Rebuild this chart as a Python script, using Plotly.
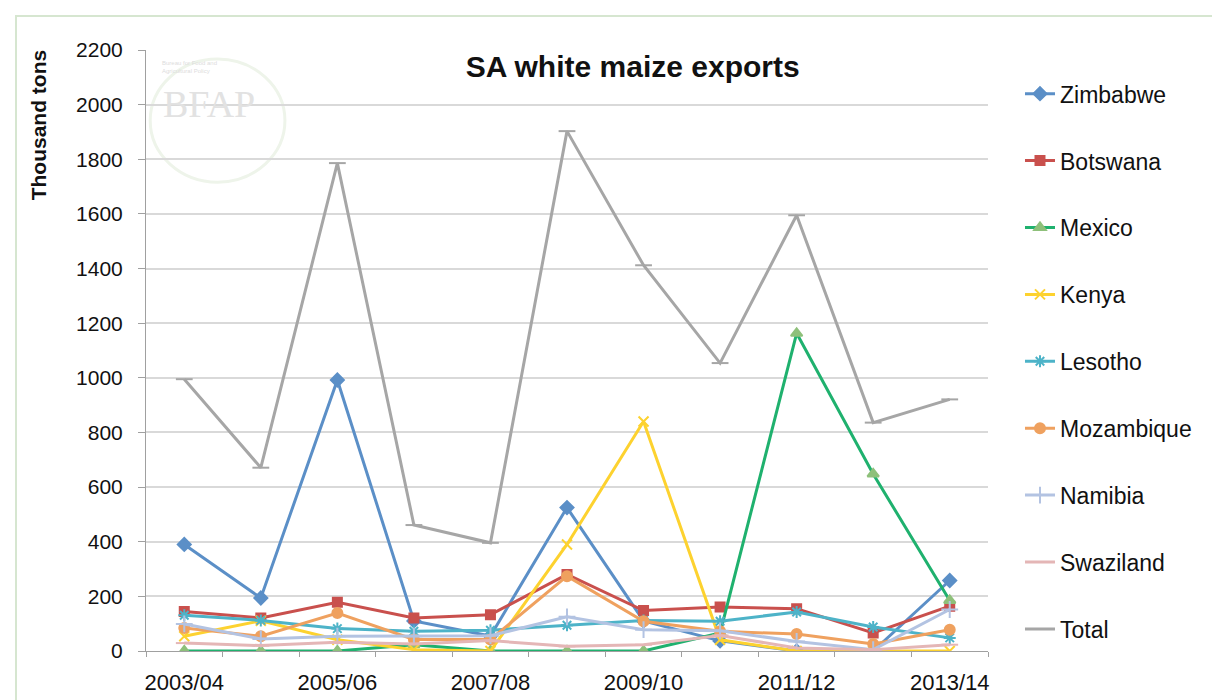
import plotly.graph_objects as go

seasons = ['2003/04', '2004/05', '2005/06', '2006/07', '2007/08', '2008/09',
           '2009/10', '2010/11', '2011/12', '2012/13', '2013/14']
shown_ticks = ['2003/04', '2005/06', '2007/08', '2009/10', '2011/12', '2013/14']

zimbabwe = [390, 194, 992, 110, 55, 525, 110, 37, 0, 0, 258]
botswana = [145, 121, 178, 121, 133, 280, 148, 161, 155, 66, 164]
mexico = [0, 0, 0, 23, 0, 0, 0, 66, 1163, 648, 185]
kenya = [54, 111, 41, 5, 0, 390, 840, 41, 0, 0, 0]
lesotho = [131, 112, 82, 72, 76, 94, 112, 109, 143, 88, 48]
mozambique = [84, 54, 139, 42, 42, 274, 109, 72, 62, 26, 78]
namibia = [99, 44, 54, 54, 56, 125, 78, 74, 35, 5, 152]
swaziland = [29, 20, 32, 26, 38, 17, 23, 57, 11, 5, 23]
total = [995, 671, 1786, 461, 396, 1903, 1412, 1054, 1595, 836, 921]

series = [
    ('Zimbabwe', zimbabwe, '#5B8FC7', 'diamond', '#5B8FC7', 10),
    ('Botswana', botswana, '#C9504D', 'square', '#C9504D', 9),
    ('Mexico', mexico, '#1FB16E', 'triangle-up', '#8EC07A', 10),
    ('Kenya', kenya, '#FDD22F', 'x-thin', '#FDD22F', 10),
    ('Lesotho', lesotho, '#4DB3C8', 'asterisk', '#4DB3C8', 10),
    ('Mozambique', mozambique, '#EFA15F', 'circle', '#EFA15F', 10),
    ('Namibia', namibia, '#B3C3E2', 'cross-thin', '#B3C3E2', 12),
    ('Swaziland', swaziland, '#E4B6B6', 'line-ew', '#E4B6B6', 12),
    ('Total', total, '#A6A6A6', 'line-ew', '#A6A6A6', 12),
]

tick_text = [s if s in shown_ticks else '' for s in seasons]

fig = go.Figure()

for name, vals, col, sym, mcol, msize in series:
    fig.add_trace(
        go.Scatter(
            name=name,
            x=seasons,
            y=vals,
            mode='lines+markers',
            legendgroup=name,
            line=dict(color=col, width=3),
            marker=dict(symbol=sym, size=msize, color=mcol,
                        line=dict(color=mcol, width=2))))

# faint BFAP watermark
fig.add_shape(type='circle', xref='paper', yref='paper',
              x0=0.005, x1=0.165, y0=0.78, y1=0.985,
              line=dict(color='#EEF4EA', width=3), layer='below')
fig.add_annotation(x=0.075, y=0.91, xref='paper', yref='paper', text='BFAP',
                   xanchor='center', yanchor='middle', showarrow=False,
                   font=dict(family='Liberation Serif', size=38, color='#E2E2E2'))
fig.add_annotation(x=0.017, y=0.972, xref='paper', yref='paper',
                   text='Bureau for Food and<br>Agricultural Policy', align='left',
                   xanchor='left', yanchor='middle', showarrow=False,
                   font=dict(family='Liberation Sans', size=6, color='#DDDDDD'))

# axis title sits at the top of the y axis
fig.add_annotation(x=-0.128, y=0.875, xref='paper', yref='paper', text='<b>Thousand tons</b>',
                   textangle=-90, xanchor='center', yanchor='middle', showarrow=False,
                   font=dict(size=21, color='#111111'))

fig.update_layout(
    width=1220,
    height=700,
    paper_bgcolor='white',
    plot_bgcolor='white',
    margin=dict(l=138, r=240, t=42, b=57),
    font=dict(family='Liberation Sans, Arial', size=22, color='#111111'),
    title=dict(text='<b>SA white maize exports</b>', x=0.512, xanchor='center',
               y=0.916, yanchor='middle', font=dict(size=30, color='#111111')),
    legend=dict(x=1.038, y=0.963, xanchor='left', yanchor='top',
                font=dict(size=23), tracegroupgap=34,
                bgcolor='rgba(0,0,0,0)'),
    xaxis=dict(type='category', range=[-0.5, 10.5], automargin=False,
               tickvals=seasons, ticktext=tick_text, tickson='boundaries', tickangle=0,
               showgrid=False, showline=True, linecolor='#A0A0A0', linewidth=1,
               ticks='outside', ticklen=5, tickcolor='#A0A0A0',
               ticklabelstandoff=12, tickfont=dict(size=22)),
    yaxis=dict(range=[0, 2200], dtick=200, showgrid=True, gridcolor='#D9D9D9',
               gridwidth=1.5, showline=True, linecolor='#A0A0A0', linewidth=1,
               ticks='outside', ticklen=7, tickcolor='#A0A0A0', zeroline=False,
               automargin=False, ticklabelstandoff=11, tickfont=dict(size=21)),
)

fig.add_shape(type='rect', xref='paper', yref='paper', x0=-0.1544, x1=1.2767, y0=-0.12, y1=1.0566,
              line=dict(color='#D6E6D0', width=2), layer='below')

fig.write_html("out.html")
